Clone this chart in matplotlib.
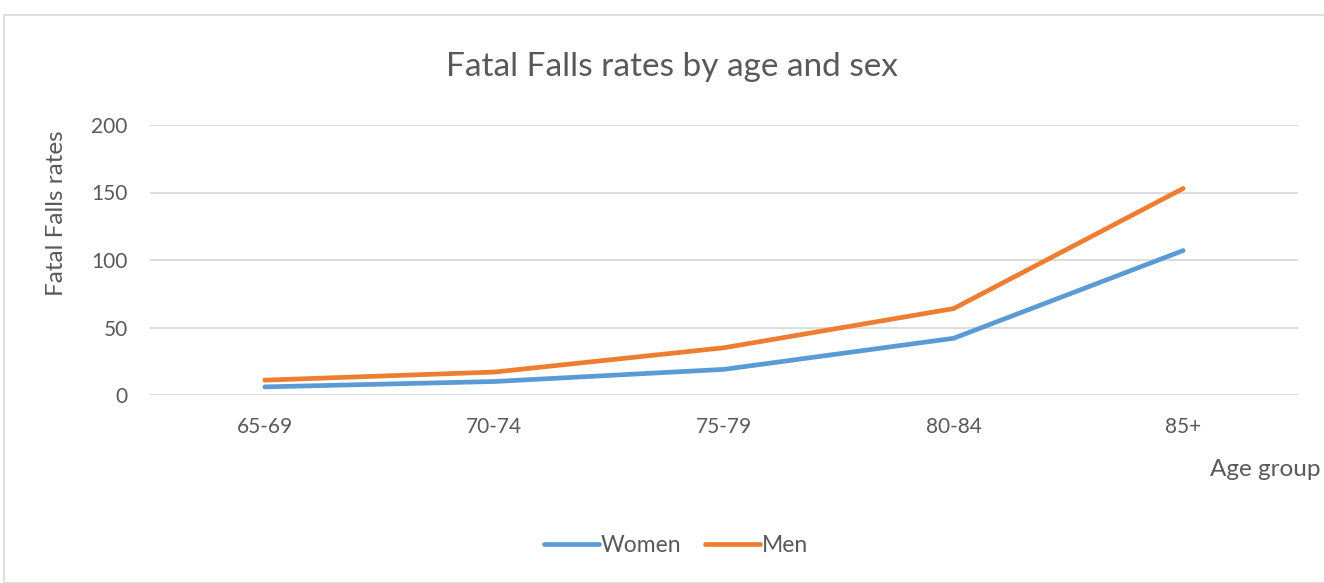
import matplotlib.pyplot as plt
from matplotlib.patches import Rectangle

# Dữ liệu
age_groups = ['65-69', '70-74', '75-79', '80-84', '85+']
women = [6, 10, 19, 42, 107]
men = [11, 17, 35, 64, 153]

plt.rcParams['font.family'] = ['Lato', 'DejaVu Sans']
txt = '#595959'
grid = '#d9d9d9'

fig = plt.figure(figsize=(13.24, 5.83), dpi=100)
fig.patches.append(Rectangle((4 / 1324, 0), 1.0, 1 - 15 / 583, transform=fig.transFigure,
                             fill=False, edgecolor=grid, lw=1.2))

ax = fig.add_axes([150 / 1324, 188 / 583, 1148 / 1324, 270 / 583])
x = range(len(age_groups))
ax.plot(x, women, color='#5B9BD5', lw=3.4, solid_capstyle='round', label='Women')
ax.plot(x, men, color='#ED7D31', lw=3.4, solid_capstyle='round', label='Men')

ax.set_xlim(-0.5, len(age_groups) - 0.5)
ax.set_ylim(0, 200)
ax.set_yticks([0, 50, 100, 150, 200])
ax.set_xticks(list(x))
ax.set_xticklabels(age_groups)
ax.grid(axis='y', color=grid, lw=1.3)
ax.set_axisbelow(True)
for s in ax.spines.values():
    s.set_visible(False)
ax.tick_params(length=0, labelsize=15, labelcolor=txt, pad=16)

fig.text(0.5075, 1 - 67 / 583, 'Fatal Falls rates by age and sex', ha='center', va='center',
         fontsize=24, color=txt)
fig.text(57 / 1324, 1 - 213 / 583, 'Fatal Falls rates', rotation=90, ha='center', va='center',
         fontsize=17.5, color=txt)
fig.text(1321 / 1324, 1 - 469 / 583, 'Age group', ha='right', va='center', fontsize=17.5, color=txt)

fig.legend(loc='center', bbox_to_anchor=(0.5106, 1 - 546 / 583), ncol=2, frameon=False,
           fontsize=16.5, labelcolor=txt, handlelength=2.4, handletextpad=0.1, columnspacing=1.0)

fig.savefig('out.png', dpi=100, facecolor='white')
